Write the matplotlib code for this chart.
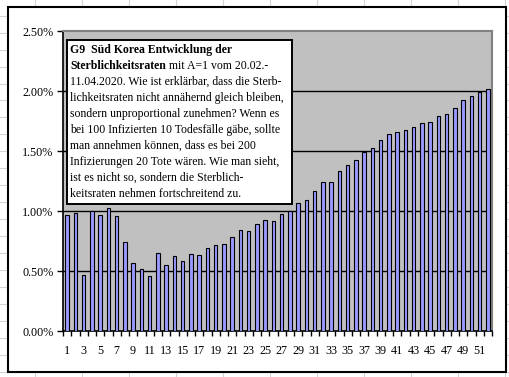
import numpy as np
import matplotlib
matplotlib.use("Agg")
import matplotlib.pyplot as plt
from matplotlib.patches import Rectangle
from matplotlib.lines import Line2D

# Sterblichkeitsraten (%) Tag 1..52
days = list(range(1, 53))
rates = [0.967, 0.983, 0.467, 1.000, 0.967, 1.022, 0.958, 0.742, 0.567, 0.514,
         0.458, 0.650, 0.550, 0.622, 0.583, 0.642, 0.633, 0.689, 0.714, 0.722,
         0.781, 0.839, 0.831, 0.889, 0.922, 0.914, 0.972, 1.000, 1.064, 1.089,
         1.164, 1.239, 1.239, 1.333, 1.383, 1.425, 1.492, 1.525, 1.589, 1.639,
         1.656, 1.672, 1.700, 1.731, 1.739, 1.789, 1.806, 1.856, 1.925, 1.956,
         1.992, 2.014]
y_ticks = [0.0, 0.5, 1.0, 1.5, 2.0, 2.5]
y_labels = ["0.00%", "0.50%", "1.00%", "1.50%", "2.00%", "2.50%"]

# (bold part, normal part) per line
note_lines = [
    ("G9  Süd Korea Entwicklung der", ""),
    ("Sterblichkeitsraten", " mit A=1 vom 20.02.-"),
    ("", "11.04.2020. Wie ist erklärbar, dass die Sterb-"),
    ("", "lichkeitsraten nicht annähernd gleich bleiben,"),
    ("", "sondern unproportional zunehmen? Wenn es"),
    ("", "bei 100 Infizierten 10 Todesfälle gäbe, sollte"),
    ("", "man annehmen können, dass es bei 200"),
    ("", "Infizierungen 20 Tote wären. Wie man sieht,"),
    ("", "ist es nicht so, sondern die Sterblich-"),
    ("", "keitsraten nehmen fortschreitend zu."),
]

W, H = 510, 377
plt.rcParams['font.family'] = ['Liberation Serif', 'DejaVu Serif']

fig = plt.figure(figsize=(W / 100, H / 100), dpi=100)
fig.patch.set_facecolor('white')


def fx(x):
    return x / W


def fy(y):
    return 1 - y / H


# spreadsheet cell lines behind the chart
for k in range(12):
    x = 35.3 + 47 * k
    fig.add_artist(Line2D([fx(x), fx(x)], [0, 1], color='#d4d4d4', lw=0.8, zorder=0))
for k in range(23):
    y = 15.7 + 16.95 * k
    fig.add_artist(Line2D([0, 1], [fy(y), fy(y)], color='#d4d4d4', lw=0.8, zorder=0))

# chart frame
fig.add_artist(Rectangle((fx(8), fy(372)), fx(506) - fx(8), fy(7) - fy(372),
                         facecolor='white', edgecolor='black', lw=1.5, zorder=1))

ax = fig.add_axes([fx(63), fy(331), fx(492) - fx(63), fy(31) - fy(331)], zorder=2)
ax.set_facecolor('#c0c0c0')

ax.bar(days, rates, width=0.42, color='#9999ff', edgecolor='black', linewidth=0.8, zorder=3)

ax.set_xlim(0.5, 52.5)
ax.set_ylim(0, 2.5)
ax.set_yticks(y_ticks)
ax.set_yticklabels(y_labels)
for v in y_ticks[1:-1]:
    ax.axhline(v, color='black', lw=1.0, zorder=2)

ax.set_xticks(days[::2])
ax.set_xticklabels([str(d) for d in days[::2]])
ax.set_xticks(np.arange(0.5, 53, 1), minor=True)
ax.tick_params(axis='x', which='major', length=0, pad=10, labelsize=8.7)
ax.tick_params(axis='x', which='minor', length=3.5, width=1.0, direction='out')
ax.tick_params(axis='y', length=4, width=1.0, pad=3, labelsize=8.7)

ax.spines['left'].set_color('black')
ax.spines['bottom'].set_color('black')
ax.spines['left'].set_linewidth(1.2)
ax.spines['bottom'].set_linewidth(1.2)
ax.spines['top'].set_color('#808080')
ax.spines['right'].set_color('#808080')
ax.spines['top'].set_linewidth(1.5)
ax.spines['right'].set_linewidth(1.5)

# note box
fig.add_artist(Rectangle((fx(67), fy(204)), fx(292) - fx(67), fy(40) - fy(204),
                         facecolor='white', edgecolor='black', lw=1.4, zorder=5))
fs = 8.5
renderer = fig.canvas.get_renderer()
for i, (bold_part, normal_part) in enumerate(note_lines):
    y = 52.7 + 16 * i
    x_next = 70
    if bold_part:
        t = fig.text(fx(70), fy(y), bold_part, fontsize=fs, va='baseline',
                     fontweight='bold', zorder=6)
        x_next = t.get_window_extent(renderer).x1 / fig.dpi * 100
    if normal_part:
        fig.text(fx(x_next), fy(y), normal_part, fontsize=fs, va='baseline', zorder=6)

fig.savefig('out.png', dpi=100)
